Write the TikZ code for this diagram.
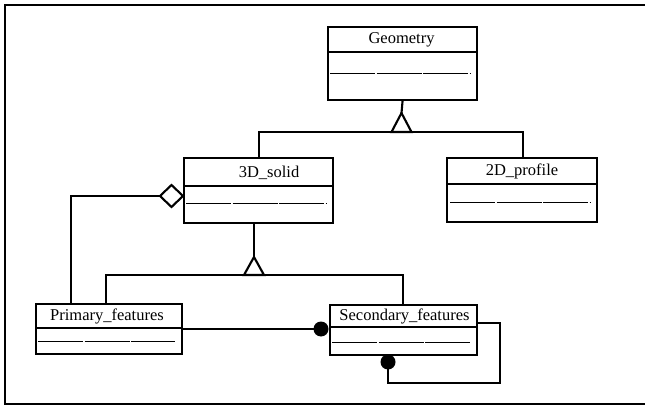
\documentclass[tikz,border=0pt]{standalone}
\usepackage{fontspec}
\setmainfont{Liberation Serif}
\begin{document}
\begin{tikzpicture}[x=1pt,y=-1pt,
  line width=2.1pt,
  classbox/.style={draw, rectangle, inner sep=0pt, anchor=north west},
  classname/.style={font=\fontsize{16.5}{18}\selectfont, inner sep=0pt},
  attrline/.style={line width=0.9pt, dash pattern=on 45pt off 1.5pt},
  link/.style={line width=2.1pt},
  dotend/.style={fill=black, draw=none}]
\useasboundingbox (0,0) rectangle (645,406);

% outer frame
\draw[line width=2.2pt] (648,5) -- (5,5) -- (5,404) -- (648,404);

% ---- classes ----
% Geometry
\node[classbox, minimum width=149pt, minimum height=73pt] (geo) at (327,26) {};
\draw (geo.west |- 0,52) -- (geo.east |- 0,52);
\draw[attrline] (330,73) -- (470,73);
\node[classname] (geoT) at (401.5,40) {Geometry};

% 3D_solid
\node[classbox, minimum width=149pt, minimum height=65pt] (solid) at (183,157) {};
\draw (solid.west |- 0,186) -- (solid.east |- 0,186);
\draw[attrline] (186,203) -- (326,203);
\node[classname] (solidT) at (269,172.5) {3D\_solid};

% 2D_profile
\node[classbox, minimum width=150pt, minimum height=64pt] (prof) at (446,157) {};
\draw (prof.west |- 0,184) -- (prof.east |- 0,184);
\draw[attrline] (450,202) -- (590,202);
\node[classname] (profT) at (522,171.5) {2D\_profile};

% Primary_features
\node[classbox, minimum width=146pt, minimum height=50pt] (prim) at (35,303) {};
\draw (prim.west |- 0,328) -- (prim.east |- 0,328);
\draw[attrline] (38,341) -- (175,341);
\node[classname] (primT) at (107,316.5) {Primary\_features};

% Secondary_features
\node[classbox, minimum width=147pt, minimum height=50pt] (sec) at (329,304) {};
\draw (sec.west |- 0,327) -- (sec.east |- 0,327);
\draw[attrline] (332,342) -- (471,342);
\node[classname] (secT) at (404.5,316) {Secondary\_features};

% ---- generalization: Geometry ----
\coordinate (g1) at (401.5,113);
\draw[link] (geo.south) -- (g1);
\draw[link, line join=miter] (g1) -- ++(-10,19) -- ++(20,0) -- cycle;
\coordinate (g1L) at (259,132);
\coordinate (g1R) at (523,132);
\draw[link] (g1L |- solid.north) -- (g1L) -- (g1R) -- (g1R |- prof.north);

% ---- generalization: 3D_solid ----
\coordinate (g2) at (254,257);
\draw[link] (g2 |- solid.south) -- (g2);
\draw[link, line join=miter] (g2) -- ++(-10,18) -- ++(20,0) -- cycle;
\coordinate (g2L) at (106,275);
\coordinate (g2R) at (403,275);
\draw[link] (g2L |- prim.north) -- (g2L) -- (g2R) -- (g2R |- sec.north);

% ---- aggregation: 3D_solid <>-- Primary_features ----
\coordinate (dm) at (171.5,196);
\draw[link, fill=white, line join=miter] (183,196) -- (171.5,185) -- (160,196) -- (171.5,207) -- cycle;
\coordinate (a1) at (71,196);
\draw[link] (160,196) -- (a1) -- (a1 |- prim.north);

% ---- association: Primary_features -- Secondary_features ----
\coordinate (d1) at (321,329);
\draw[link] (prim.east |- d1) -- (d1);
\fill[dotend] (d1) circle (7.5pt);

% ---- self association on Secondary_features ----
\coordinate (s1) at (500,323);
\coordinate (s2) at (500,383);
\coordinate (d2) at (388,362);
\draw[link] (sec.east |- s1) -- (s1) -- (s2) -- (d2 |- s2) -- (d2);
\fill[dotend] (d2) circle (7.5pt);
\end{tikzpicture}
\end{document}
